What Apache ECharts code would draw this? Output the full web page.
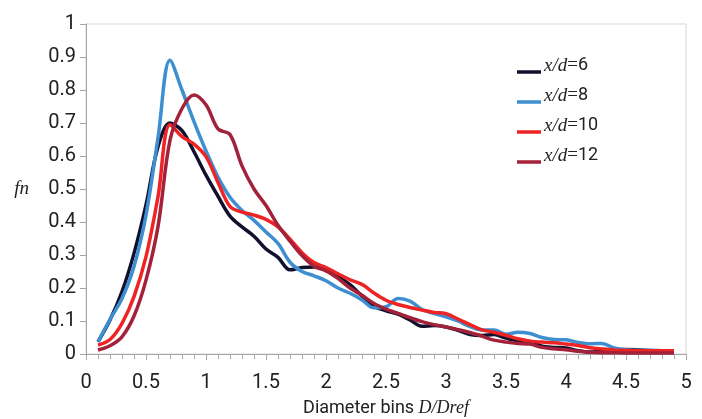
<!DOCTYPE html>
<html>
<head>
<meta charset="utf-8">
<script src="https://cdn.jsdelivr.net/npm/echarts@6/dist/echarts.min.js"></script>
<style>
html,body{margin:0;padding:0;background:#fff;}
#c{width:702px;height:419px;}
</style>
</head>
<body>
<div id="c"></div>
<script>
// Diameter bins D/Dref
var bins = [0.1,0.2,0.3,0.4,0.5,0.6,0.7,0.8,0.9,1.0,
            1.1,1.2,1.3,1.4,1.5,1.6,1.7,1.8,1.9,2.0,
            2.1,2.2,2.3,2.4,2.5,2.6,2.7,2.8,2.9,3.0,
            3.1,3.2,3.3,3.4,3.5,3.6,3.7,3.8,3.9,4.0,
            4.1,4.2,4.3,4.4,4.5,4.6,4.7,4.8,4.9];

var seriesNames = ['x/d=6','x/d=8','x/d=10','x/d=12'];

var fn_xd6 = [0.037,0.103,0.189,0.305,0.452,0.628,0.700,0.677,0.613,0.542,
              0.478,0.418,0.385,0.357,0.318,0.293,0.255,0.262,0.264,0.258,
              0.235,0.210,0.176,0.145,0.131,0.121,0.103,0.084,0.086,0.082,
              0.072,0.059,0.056,0.059,0.048,0.040,0.038,0.024,0.020,0.018,
              0.010,0.006,0.009,0.012,0.014,0.013,0.010,0.008,0.007];

var fn_xd8 = [0.037,0.105,0.168,0.265,0.421,0.655,0.890,0.800,0.704,0.615,
              0.536,0.475,0.435,0.405,0.370,0.335,0.278,0.250,0.237,0.222,
              0.200,0.184,0.164,0.140,0.143,0.168,0.160,0.135,0.123,0.113,
              0.100,0.083,0.073,0.073,0.060,0.066,0.062,0.050,0.044,0.043,
              0.035,0.031,0.032,0.018,0.013,0.011,0.011,0.010,0.009];

var fn_xd10 = [0.027,0.044,0.093,0.174,0.295,0.477,0.695,0.659,0.636,0.598,
               0.520,0.447,0.430,0.421,0.408,0.385,0.348,0.307,0.277,0.262,
               0.243,0.225,0.211,0.185,0.163,0.150,0.141,0.133,0.126,0.122,
               0.106,0.089,0.073,0.066,0.057,0.046,0.039,0.036,0.034,0.030,
               0.026,0.019,0.015,0.012,0.011,0.010,0.010,0.010,0.010];

var fn_xd12 = [0.012,0.025,0.052,0.115,0.224,0.386,0.648,0.744,0.785,0.755,
               0.682,0.665,0.570,0.500,0.450,0.390,0.342,0.298,0.266,0.252,
               0.229,0.200,0.178,0.153,0.136,0.123,0.110,0.098,0.089,0.082,
               0.074,0.065,0.054,0.042,0.036,0.032,0.030,0.020,0.016,0.013,
               0.008,0.005,0.004,0.004,0.003,0.003,0.003,0.003,0.003];

var xTicks = [0,0.5,1,1.5,2,2.5,3,3.5,4,4.5,5];
var yTicks = [0,0.1,0.2,0.3,0.4,0.5,0.6,0.7,0.8,0.9,1];

var allValues = [fn_xd6, fn_xd8, fn_xd10, fn_xd12];
var colors = ['#11112f','#3d8fd1','#ee2424','#a3223a'];

var NARROW = "'Liberation Sans Narrow','Roboto','Liberation Sans',sans-serif";
var SERIF = "'Liberation Serif','DejaVu Serif',serif";

function pairs(vals){ return bins.map(function(x,i){ return [x, vals[i]]; }); }
function fmt(v){ return String(Math.round(v*10)/10); }

var chart = echarts.init(document.getElementById('c'), null, {renderer:'canvas'});
var option = {
  animation:false,
  backgroundColor:'#fff',
  grid:{left:86,right:16,top:24,bottom:65,show:true,borderColor:'#d9d9d9',borderWidth:1,
        backgroundColor:'transparent',containLabel:false,outerBoundsMode:'none'},
  legend:{
    orient:'vertical',
    left:512, top:51,
    itemWidth:24, itemHeight:17, itemGap:11,
    icon:'path://M0,0h24v0.01h-24z M0,13h24v3.5h-24z',
    data:seriesNames,
    formatter:function(n){ var p=n.split('='); return '{i|'+p[0]+'}{e|=}{n|'+p[1]+'}'; },
    textStyle:{
      color:'#222', padding:[0,0,0,-2],
      rich:{
        i:{fontFamily:SERIF,fontStyle:'italic',fontSize:19,color:'#222'},
        e:{fontFamily:SERIF,fontSize:19,color:'#222'},
        n:{fontFamily:NARROW,fontSize:18,color:'#222'}
      }
    }
  },
  xAxis:{
    type:'value', min:0, max:5, interval:0.5,
    name:'{a|Diameter bins }{b|D/Dref}',
    nameLocation:'middle', nameGap:45,
    nameTextStyle:{rich:{
      a:{fontFamily:NARROW,fontSize:18,color:'#222'},
      b:{fontFamily:SERIF,fontStyle:'italic',fontSize:18,color:'#222'}
    }},
    axisLine:{show:true,lineStyle:{color:'#a6a6a6',width:1}},
    axisTick:{show:true,length:6,lineStyle:{color:'#a6a6a6'}},
    minorTick:{show:true,splitNumber:5,length:5,lineStyle:{color:'#a6a6a6'}},
    splitLine:{show:false},
    axisLabel:{margin:19,fontFamily:NARROW,fontSize:20,color:'#222',formatter:fmt}
  },
  yAxis:{
    type:'value', min:0, max:1, interval:0.1,
    name:'fn', nameLocation:'middle', nameRotate:0, nameGap:57,
    nameTextStyle:{fontFamily:SERIF,fontStyle:'italic',fontSize:19,color:'#222'},
    axisLine:{show:true,lineStyle:{color:'#a6a6a6',width:1}},
    axisTick:{show:true,length:6,lineStyle:{color:'#a6a6a6'}},
    splitLine:{show:false},
    axisLabel:{margin:10,fontFamily:NARROW,fontSize:20,color:'#222',formatter:fmt}
  },
  series: seriesNames.map(function(n,k){
    return {
      name:n, type:'line', data:pairs(allValues[k]),
      smooth:0.35, showSymbol:false, symbol:'none',
      lineStyle:{color:colors[k],width:3.5},
      itemStyle:{color:colors[k]},
      z: 2 + k
    };
  })
};
chart.setOption(option);
</script>
</body>
</html>
